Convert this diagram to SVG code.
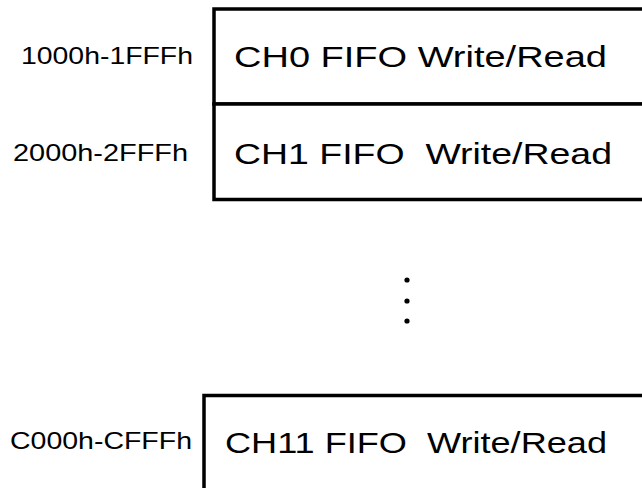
<svg xmlns="http://www.w3.org/2000/svg" width="642" height="488" viewBox="0 0 642 488">
<style>
.box{fill:#fff;stroke:#000;stroke-width:3.5}
.t{font-family:"Liberation Sans",Arial,sans-serif;font-size:30px;fill:#000;white-space:pre}
.a{font-family:"Liberation Sans",Arial,sans-serif;font-size:24px;fill:#000}
.dot{fill:#000}
</style>
<rect width="642" height="488" fill="#fff"/>
<g id="ch0">
<rect class="box" x="214" y="9" width="440" height="95"/>
<text class="t" x="234" y="67" textLength="373" lengthAdjust="spacingAndGlyphs">CH0 FIFO Write/Read</text>
<text class="a" x="21" y="64" textLength="172" lengthAdjust="spacingAndGlyphs">1000h-1FFFh</text>
</g>
<g id="ch1">
<rect class="box" x="214" y="104" width="440" height="95.5"/>
<text class="t" x="234" y="164" textLength="378" lengthAdjust="spacingAndGlyphs" xml:space="preserve">CH1 FIFO  Write/Read</text>
<text class="a" x="13" y="161" textLength="175" lengthAdjust="spacingAndGlyphs">2000h-2FFFh</text>
</g>
<g id="ellipsis">
<circle class="dot" cx="407" cy="280" r="2.6"/>
<circle class="dot" cx="407" cy="301" r="2.6"/>
<circle class="dot" cx="407" cy="321" r="2.6"/>
</g>
<g id="ch11">
<rect class="box" x="204" y="395.5" width="450" height="110"/>
<text class="t" x="225" y="453" textLength="382" lengthAdjust="spacingAndGlyphs" xml:space="preserve">CH11 FIFO  Write/Read</text>
<text class="a" x="10" y="449" textLength="182" lengthAdjust="spacingAndGlyphs">C000h-CFFFh</text>
</g>
<g id="connectors"/>
</svg>
